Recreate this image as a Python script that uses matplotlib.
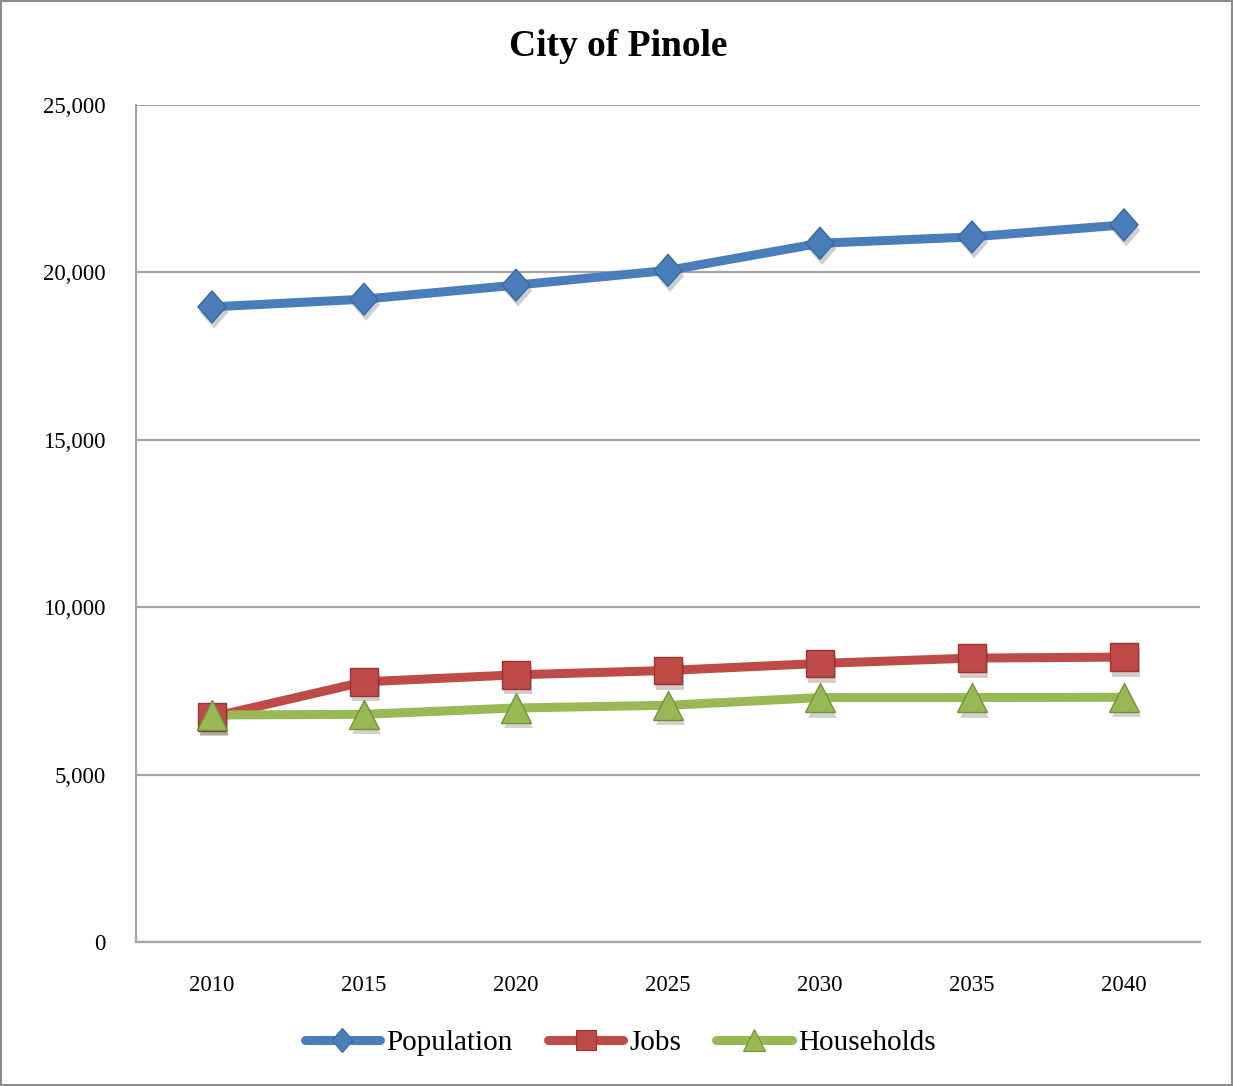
import matplotlib
matplotlib.use("Agg")
import matplotlib.pyplot as plt
import matplotlib.patheffects as pe
from matplotlib.lines import Line2D
from matplotlib.path import Path
from matplotlib.ticker import FuncFormatter

years = ["2010", "2015", "2020", "2025", "2030", "2035", "2040"]
population = [18970, 19200, 19620, 20060, 20870, 21060, 21420]
jobs = [6720, 7770, 7980, 8110, 8320, 8480, 8510]
households = [6780, 6800, 6990, 7070, 7300, 7300, 7310]

plt.rcParams["font.family"] = ["Liberation Serif", "DejaVu Serif"]

# slightly tall diamond marker
tall_diamond = Path([(0, 1), (0.88, 0), (0, -1), (-0.88, 0), (0, 1)],
                    [Path.MOVETO, Path.LINETO, Path.LINETO, Path.LINETO, Path.CLOSEPOLY])

fig = plt.figure(figsize=(12.33, 10.86), dpi=100)
ax = fig.add_axes([136 / 1233, 1 - 942 / 1086, (1200 - 136) / 1233, (942 - 105) / 1086])

x = list(range(len(years)))
shadow = [pe.SimplePatchShadow(offset=(1.5, -4), alpha=0.22), pe.Normal()]

series = [
    ("Population", population, "#4a7ebb", "#3a68a0", tall_diamond, 23),
    ("Jobs", jobs, "#be4b48", "#9c3230", "s", 20),
    ("Households", households, "#98b954", "#72913a", "^", 21),
]
handles = []
for name, vals, col, edge, mk, ms in series:
    ax.plot(x, vals, color=col, lw=6.5, solid_capstyle="round",
            solid_joinstyle="round", zorder=3)
    ax.plot(x, vals, linestyle="none", marker=mk, markersize=ms,
            markerfacecolor=col, markeredgecolor=edge, markeredgewidth=1.0,
            zorder=4, path_effects=shadow)
    handles.append(Line2D([], [], color=col, lw=6.5, solid_capstyle="round",
                          marker=mk, markersize=ms * 0.75, markerfacecolor=col,
                          markeredgecolor=edge, markeredgewidth=0.8, label=name))

ax.set_xlim(-0.5, len(years) - 0.5)
ax.set_ylim(0, 25000)
ax.set_yticks(range(0, 25001, 5000))
ax.yaxis.set_major_formatter(FuncFormatter(lambda v, p: f"{int(v):,}"))
ax.set_xticks(x)
ax.set_xticklabels(years)
ax.grid(axis="y", color="#a6a6a6", lw=1.6)
ax.set_axisbelow(True)
for s in ["top", "right"]:
    ax.spines[s].set_visible(False)
for s in ["left", "bottom"]:
    ax.spines[s].set_color("#a6a6a6")
    ax.spines[s].set_linewidth(1.6)
ax.tick_params(axis="both", length=0, labelsize=16.5, colors="black")
ax.tick_params(axis="y", pad=22)
ax.tick_params(axis="x", pad=24)

fig.text(618 / 1233, 1 - 47 / 1086, "City of Pinole", ha="center", va="center",
         fontsize=27, fontweight="bold")

fig.legend(handles=handles, loc="center", bbox_to_anchor=(620 / 1233, 1 - 1043 / 1086),
           ncol=3, frameon=False, fontsize=21, handlelength=2.6,
           handletextpad=0.2, columnspacing=1.2)

fig.patches.append(plt.Rectangle((0.001, 0.001), 0.998, 0.998, transform=fig.transFigure,
                                 fill=False, edgecolor="#8c8c8c", lw=1.5))

fig.savefig("out.png", dpi=100, facecolor="white")
